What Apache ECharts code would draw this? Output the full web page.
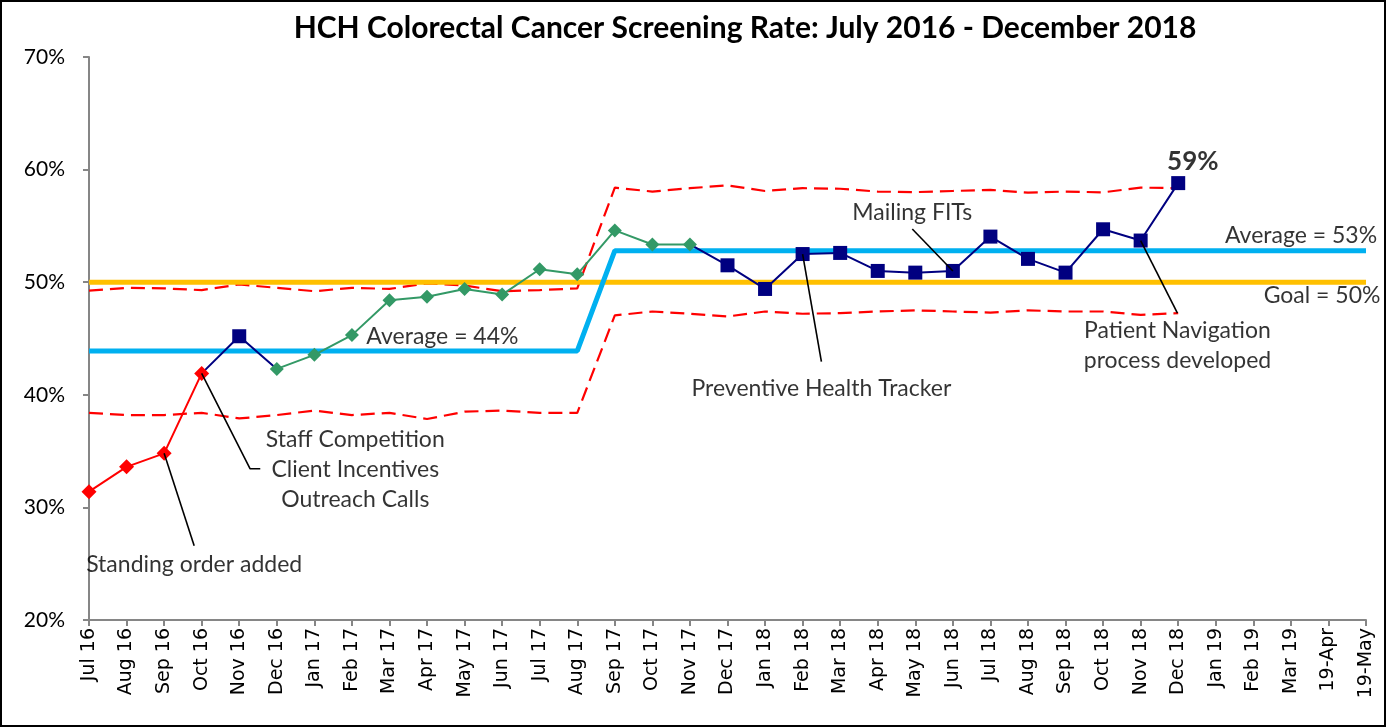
<!DOCTYPE html>
<html>
<head>
<meta charset="utf-8">
<script src="https://cdn.jsdelivr.net/npm/echarts@6/dist/echarts.min.js"></script>
<style>
html,body{margin:0;padding:0;background:#fff;}
#chart{width:1386px;height:727px;}
</style>
</head>
<body>
<div id="chart"></div>
<script>
// ---- data ----
var categories = ['Jul 16','Aug 16','Sep 16','Oct 16','Nov 16','Dec 16','Jan 17','Feb 17','Mar 17','Apr 17','May 17','Jun 17','Jul 17','Aug 17','Sep 17','Oct 17','Nov 17','Dec 17','Jan 18','Feb 18','Mar 18','Apr 18','May 18','Jun 18','Jul 18','Aug 18','Sep 18','Oct 18','Nov 18','Dec 18','Jan 19','Feb 19','Mar 19','19-Apr','19-May'];
var rate = [31.4,33.6,34.8,41.9,45.2,42.3,43.55,45.3,48.4,48.7,49.4,48.9,51.15,50.7,54.6,53.35,53.35,51.5,49.4,52.5,52.6,51.0,50.85,51.0,54.05,52.07,50.85,54.7,53.7,58.8];
var ucl = [49.25,49.5,49.45,49.3,49.8,49.5,49.2,49.5,49.4,49.9,49.7,49.2,49.3,49.45,58.4,58.05,58.35,58.6,58.1,58.35,58.3,58.05,58.0,58.1,58.2,57.95,58.05,57.98,58.4,58.35];
var lcl = [38.4,38.2,38.2,38.4,37.9,38.2,38.6,38.2,38.4,37.85,38.5,38.6,38.4,38.4,47.05,47.4,47.2,46.95,47.4,47.2,47.25,47.4,47.5,47.4,47.3,47.5,47.4,47.4,47.1,47.25];
var averages = [43.9, 52.8];          // before / after Sep 17
var averageSplit = 14;                // index of Sep 17
var goal = 50;
var yTicks = [20,30,40,50,60,70];
// segments of the run chart [from, to] (inclusive indices)
var segRed = [0,3], segNavy1 = [3,5], segGreen = [5,16], segNavy2 = [16,29];
var navyMarkerless = [3,5,16];       // shared end points drawn by neighbouring segment
// annotation leader lines (data space)
var leaders = [
  [[2, rate[2]], [2.8, 26.6]],
  [[3, rate[3]], [4.29, 33.43], [4.56, 33.43]],
  [[19, rate[19]], [19.5, 42.95]],
  [[23, rate[23]], [21.92, 54.73]],
  [[28, rate[28]], [28.98, 47.25]]
];
var notes = [
  {text:'Standing order added', at:[2.8, 24.9]},
  {text:'Staff Competition\nClient Incentives\nOutreach Calls', at:[7.09, 33.35]},
  {text:'Preventive Health Tracker', at:[19.5, 40.53]},
  {text:'Mailing FITs', at:[21.92, 56.15]},
  {text:'Patient Navigation\nprocess developed', at:[28.98, 44.39]},
  {text:'Average = 44%', at:[9.41, 45.16]},
  {text:'Average = 53%', at:[32.27, 54.1]},
  {text:'Goal = 50%', at:[32.83, 48.78]}
];
var lastLabel = {text:'59%', at:[29.39, 60.67]};

// ---- build ----
function seg(range, mk) {
  var d = categories.map(function(){return null;});
  for (var i = range[0]; i <= range[1]; i++) {
    d[i] = mk ? mk(i) : rate[i];
  }
  return d;
}
var avgData = categories.map(function(c,i){ return i < averageSplit ? averages[0] : averages[1]; });
var goalData = categories.map(function(){ return goal; });

var FONT = 'Lato';
var series = [
  {name:'UCL', type:'line', data:ucl, symbol:'none', lineStyle:{color:'#FF0000', width:2.2, type:[14,7]}, z:2},
  {name:'LCL', type:'line', data:lcl, symbol:'none', lineStyle:{color:'#FF0000', width:2.2, type:[14,7]}, z:2},
  {name:'Goal', type:'line', data:goalData, symbol:'none', lineStyle:{color:'#FFC000', width:5}, z:3},
  {name:'Average', type:'line', data:avgData, symbol:'none', lineStyle:{color:'#00B0F0', width:5}, z:4},
  {name:'Red', type:'line', data:seg(segRed), symbol:'diamond', symbolSize:15, itemStyle:{color:'#FF0000'}, lineStyle:{color:'#FF0000', width:2}, z:6},
  {name:'Navy1', type:'line', data:seg(segNavy1, function(i){ return navyMarkerless.indexOf(i)>=0 ? {value:rate[i], symbol:'none'} : rate[i]; }), symbol:'rect', symbolSize:14, itemStyle:{color:'#000080'}, lineStyle:{color:'#000080', width:2}, z:5},
  {name:'Green', type:'line', data:seg(segGreen), symbol:'diamond', symbolSize:14, itemStyle:{color:'#339966'}, lineStyle:{color:'#339966', width:2}, z:6},
  {name:'Navy2', type:'line', data:seg(segNavy2, function(i){ return navyMarkerless.indexOf(i)>=0 ? {value:rate[i], symbol:'none'} : rate[i]; }), symbol:'rect', symbolSize:14, itemStyle:{color:'#000080'}, lineStyle:{color:'#000080', width:2}, z:5}
];
leaders.forEach(function(l){
  series.push({type:'line', xAxisIndex:1, data:l, symbol:'none', lineStyle:{color:'#000', width:1.6}, z:8, silent:true, clip:false});
});
series.push({
  type:'scatter', xAxisIndex:1, symbolSize:1, itemStyle:{color:'rgba(0,0,0,0)'}, clip:false, z:9, silent:true,
  data: notes.map(function(n){ return {value:n.at, label:{show:true, position:'inside', formatter:n.text, color:'#000', fontFamily:FONT, fontSize:23, lineHeight:30, align:'center', verticalAlign:'middle'}}; })
    .concat([{value:lastLabel.at, label:{show:true, position:'inside', formatter:lastLabel.text, color:'#000', fontFamily:FONT, fontSize:26, fontWeight:'bold', align:'center', verticalAlign:'middle'}}])
});

var chart = echarts.init(document.getElementById('chart'));
chart.setOption({
  animation:false,
  backgroundColor:'#fff',
  title:{text:'HCH Colorectal Cancer Screening Rate: July 2016 - December 2018', left:740, top:8, textAlign:'center',
    textStyle:{fontFamily:FONT, fontSize:30, fontWeight:'bold', color:'#000'}},
  grid:{left:89, right:20, top:57, bottom:107, containLabel:false},
  xAxis:[
    {type:'category', data:categories, boundaryGap:false,
     axisLine:{lineStyle:{color:'#868686', width:2}},
     axisTick:{show:true, interval:0, length:6, lineStyle:{color:'#868686', width:2}},
     axisLabel:{interval:0, rotate:90, margin:8, fontFamily:'DejaVu Sans', fontSize:19, color:'#000'},
     splitLine:{show:false}},
    {type:'value', min:0, max:categories.length-1, show:false}
  ],
  yAxis:{type:'value', min:yTicks[0], max:yTicks[yTicks.length-1], interval:10,
    axisLine:{show:true, lineStyle:{color:'#868686', width:2}},
    axisTick:{show:true, length:6, lineStyle:{color:'#868686', width:2}},
    axisLabel:{formatter:'{value}%', margin:24, fontFamily:FONT, fontSize:21, color:'#000'},
    splitLine:{show:false}},
  graphic:[{type:'rect', shape:{x:1, y:1, width:1384, height:725}, style:{fill:'none', stroke:'#000', lineWidth:2}, z:100}],
  series:series
});
</script>
</body>
</html>
